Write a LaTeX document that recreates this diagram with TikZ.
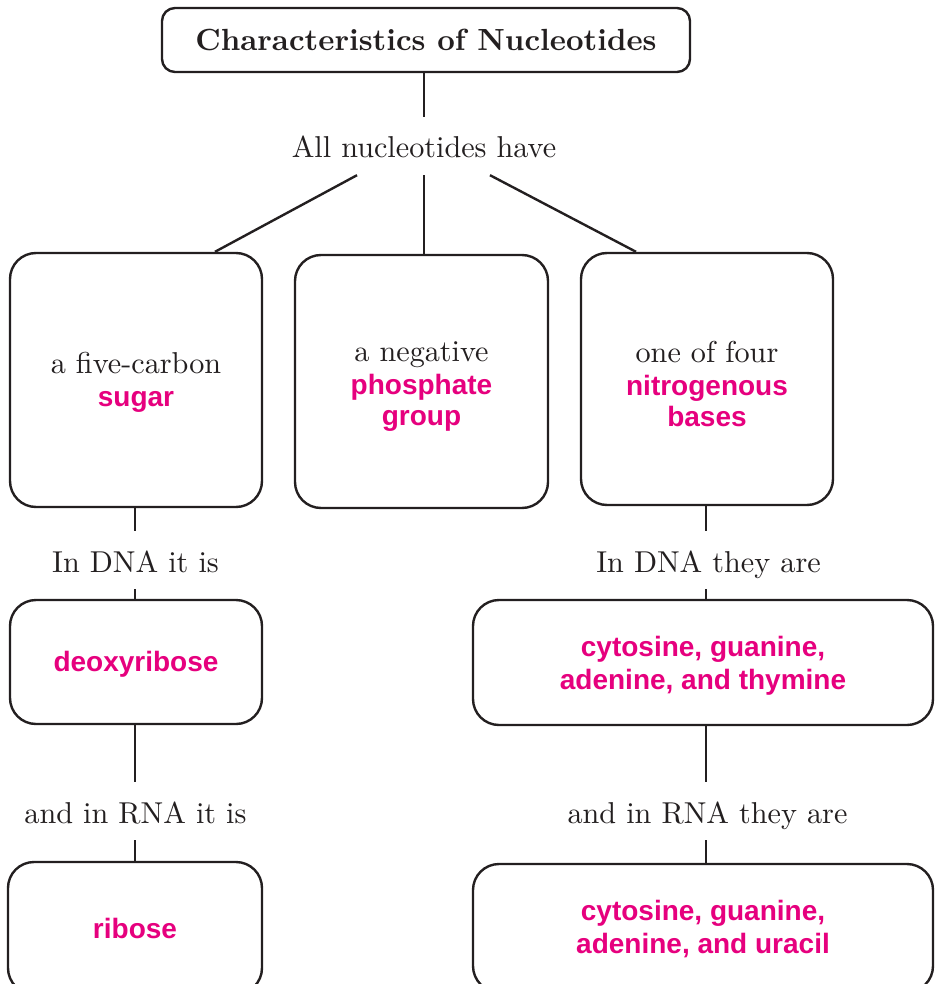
\documentclass[tikz,border=0pt]{standalone}
\usepackage{fontspec}
\newfontfamily\hv{Liberation Sans}
\newfontfamily\serf{lmroman10-regular.otf}
\newfontfamily\serfb{lmroman10-bold.otf}
\usetikzlibrary{calc}
\definecolor{pinkt}{RGB}{230,0,126}
\definecolor{ink}{RGB}{35,31,32}
\newcommand{\pkt}[1]{{\hv\bfseries\fontsize{28}{33}\selectfont\color{pinkt}#1}}
\begin{document}
\begin{tikzpicture}[x=1pt,y=-1pt,
  conn/.style={draw=ink,line width=2.4pt},
  box/.style={draw=ink,line width=2.4pt,rounded corners=26pt,fill=white,inner sep=0pt},
  lbl/.style={draw=none,inner sep=0pt,anchor=base,text height=41pt,text depth=17pt,text=ink,font=\serf\fontsize{30.2}{34}\selectfont},
  mix/.style={align=center,inner sep=0pt,text=ink,font=\serf\fontsize{30.2}{33}\selectfont},
  pk/.style={align=center,inner sep=0pt,text=pinkt,font=\hv\bfseries\fontsize{28}{33}\selectfont}]
\useasboundingbox (0,0) rectangle (939,984);
\clip (0,0) rectangle (939,984);
\coordinate (rx) at (706,0);
\coordinate (lx) at (135,0);
% title
\node[box,rounded corners=13pt,minimum width=528pt,minimum height=64pt,
  font=\serfb\fontsize{30.6}{34}\selectfont,text=ink] (title) at (426,40) {Characteristics of Nucleotides};
\node[lbl] (all) at (424,158) {All nucleotides have};
% three boxes
\node[box,minimum width=252pt,minimum height=254pt] (b1) at (136,380) {};
\node[mix] (b1t) at ([yshift=-2.5pt]b1.center) {a five-carbon\\\pkt{sugar}};
\node[box,minimum width=253pt,minimum height=253pt] (b2) at (421.5,381.5) {};
\node[mix] (b2t) at ([yshift=-5pt]b2.center) {a negative\\\pkt{phosphate}\\[-2pt]\pkt{group}};
\node[box,minimum width=252pt,minimum height=252pt] (b3) at (707,379) {};
\node[mix] (b3t) at ([yshift=-5pt]b3.center) {one of four\\\pkt{nitrogenous}\\[-2pt]\pkt{bases}};
% left column
\node[lbl] (ldna) at (135.5,572) {In DNA it is};
\node[box,minimum width=252pt,minimum height=124pt] (deoxy) at (136,662) {};
\node[pk] (deoxyt) at ([yshift=-2pt]deoxy.center) {deoxyribose};
\node[lbl] (lrna) at (135.5,823) {and in RNA it is};
\node[box,minimum width=254pt,minimum height=132pt] (ribose) at (135,928) {};
\node[pk] (riboset) at (ribose.center) {ribose};
% right column
\node[lbl] (rdna) at (708.5,572) {In DNA they are};
\node[box,minimum width=460pt,minimum height=125pt] (cgat) at (703,662.5) {};
\node[pk] (cgatt) at ([yshift=-3.5pt]cgat.center) {cytosine, guanine,\\adenine, and thymine};
\node[lbl] (rrna) at (707.5,823) {and in RNA they are};
\node[box,minimum width=460pt,minimum height=128pt] (cgau) at (703,928) {};
\node[pk] (cgaut) at ([yshift=-1.5pt]cgau.center) {cytosine, guanine,\\adenine, and uracil};
% connectors
\draw[conn] (all.north |- title.south) -- (all.north);
\draw[conn] ([xshift=-67pt]all.south) -- ([xshift=79pt]b1.north);
\draw[conn] (all.south) -- (b2.north -| all.south);
\draw[conn] ([xshift=66pt]all.south) -- ([xshift=-71pt]b3.north);
\draw[conn] (b1.south -| lx) -- (ldna.north -| lx);
\draw[conn] (ldna.south -| lx) -- (deoxy.north -| lx);
\draw[conn] (deoxy.south -| lx) -- (lrna.north -| lx);
\draw[conn] (lrna.south -| lx) -- (ribose.north -| lx);
\draw[conn] (b3.south -| rx) -- (rdna.north -| rx);
\draw[conn] (rdna.south -| rx) -- (cgat.north -| rx);
\draw[conn] (cgat.south -| rx) -- (rrna.north -| rx);
\draw[conn] (rrna.south -| rx) -- (cgau.north -| rx);
\end{tikzpicture}
\end{document}
